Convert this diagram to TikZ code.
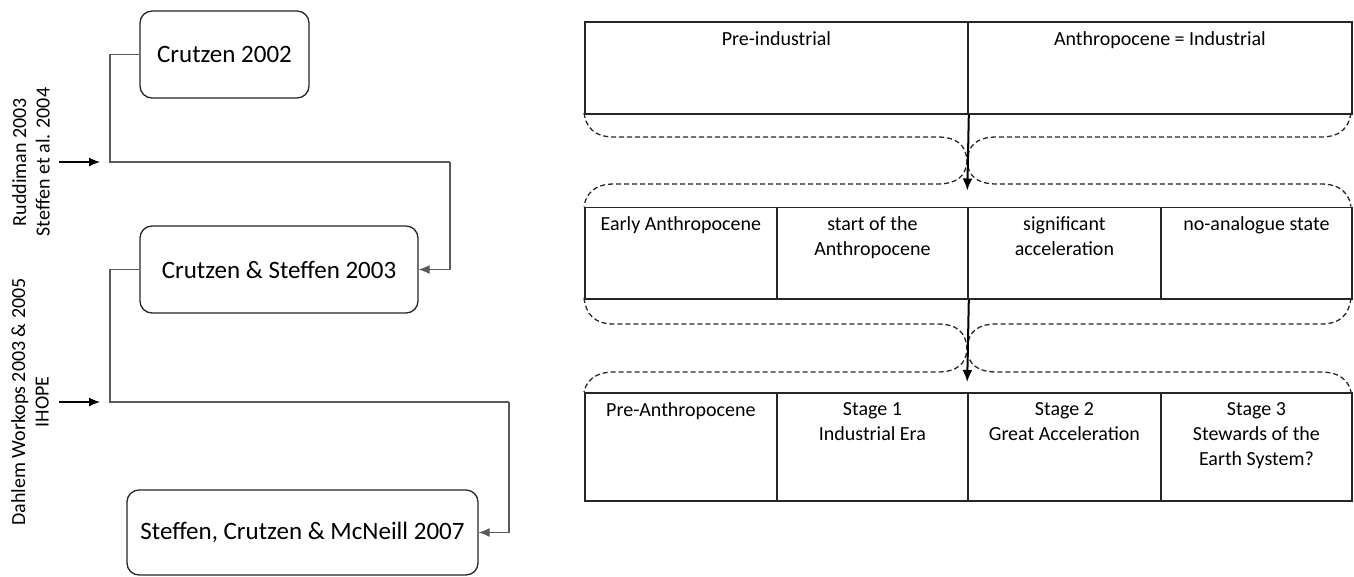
\documentclass[tikz,border=0pt]{standalone}
\usepackage{fontspec}
\setmainfont{Carlito}
\usepackage{xcolor}
\usepackage{tikz}
\usetikzlibrary{arrows.meta,calc}
\definecolor{ink}{RGB}{38, 38, 38}
\definecolor{wire}{RGB}{90, 90, 90}

\begin{document}
\begin{tikzpicture}[x=1pt,y=-1pt,
  paper/.style={draw=ink,line width=1.3pt,rounded corners=12pt,minimum height=87pt,inner sep=0pt,font=\fontsize{25}{30}\selectfont},
  source/.style={rotate=90,align=center,inner sep=0pt,font=\fontsize{20}{23.5}\selectfont},
  cell/.style 2 args={draw=ink,line width=1.8pt,anchor=north west,inner sep=0pt,minimum width=#1,minimum height=#2},
  celltext/.style={anchor=north,yshift=-8pt,inner sep=2pt,align=center,font=\fontsize{20}{25}\selectfont},
  link/.style={wire,line width=1.1pt},
  feed/.style={black,line width=1.1pt,-{Latex[length=11pt,width=9pt]}},
  flow/.style={black,line width=2pt,-{Latex[length=12pt,width=10pt]}},
  brace/.style={ink,line width=1.3pt,dash pattern=on 5pt off 3pt}]
\useasboundingbox (0,0) rectangle (1354,576);
\node[paper,minimum width=169pt] (b1) at (224.5,54.5) {Crutzen 2002};
\node[paper,minimum width=278pt] (b2) at (279,269.5) {Crutzen \& Steffen 2003};
\node[paper,minimum width=351pt,minimum height=85pt] (b3) at (302.5,532.5) {Steffen, Crutzen \& McNeill 2007};
\coordinate (j1) at (110,162);
\coordinate (k1) at (450,162);
\coordinate (j2) at (110,402);
\coordinate (k2) at (509,402);
\draw[link] (b1.west) -| (j1) -- (k1);
\draw[link,-{Latex[length=11pt,width=9pt]}] (k1) |- (b2.east);
\draw[link] (b2.west) -| (j2) -- (k2);
\draw[link,-{Latex[length=11pt,width=9pt]}] (k2) |- (b3.east);
\node[source] (r1) at (31,162) {Ruddiman 2003\\Steffen et al. 2004};
\node[source] (r2) at (30,402) {Dahlem Workops 2003 \& 2005\\IHOPE};
\coordinate (in1) at (59,162);
\coordinate (to1) at (100,162);
\coordinate (in2) at (59,402);
\coordinate (to2) at (100,402);
\draw[feed] (in1) -- (to1);
\draw[feed] (in2) -- (to2);
\node[cell={383pt}{92pt},label={[celltext]north:Pre-industrial}] (pre) at (584,21) {};
\node[cell={384pt}{92pt},label={[celltext]north:Anthropocene = Industrial}] (ind) at (967,21) {};
\node[cell={192pt}{91.5pt},label={[celltext]north:Early Anthropocene}] (e1) at (584,206.5) {};
\node[cell={191pt}{91.5pt},label={[celltext]north:{start of the\\Anthropocene}}] (e2) at (776,206.5) {};
\node[cell={193pt}{91.5pt},label={[celltext]north:{significant\\acceleration}}] (e3) at (967,206.5) {};
\node[cell={191pt}{91.5pt},label={[celltext]north:no-analogue state}] (e4) at (1160,206.5) {};
\node[cell={192pt}{108pt},label={[celltext]north:Pre-Anthropocene}] (s0) at (584,392) {};
\node[cell={191pt}{108pt},label={[celltext]north:{Stage 1\\Industrial Era}}] (s1) at (776,392) {};
\node[cell={193pt}{108pt},label={[celltext]north:{Stage 2\\Great Acceleration}}] (s2) at (967,392) {};
\node[cell={191pt}{108pt},label={[celltext]north:{Stage 3\\Stewards of the\\Earth System?}}] (s3) at (1160,392) {};
\foreach \t/\u/\m/\l/\b in {113/137/161/184/206.5,298/324/349/372/392}{
  \draw[brace] (584,\t) .. controls (586,\u-10) and (594,\u) .. (614,\u) -- (937,\u) .. controls (957,\u) and (966,\u+8) .. (967,\m) .. controls (966,\l-8) and (957,\l) .. (937,\l) -- (614,\l) .. controls (594,\l) and (586,\l+10) .. (584,\b);
  \draw[brace] (1351,\t) .. controls (1349,\u-10) and (1341,\u) .. (1321,\u) -- (997,\u) .. controls (977,\u) and (968,\u+8) .. (967,\m) .. controls (968,\l-8) and (977,\l) .. (997,\l) -- (1321,\l) .. controls (1341,\l) and (1349,\l+10) .. (1351,\b);
}
\draw[flow,shorten >=16pt] (pre.south east) -- (e3.north west);
\draw[flow,shorten >=10pt] (e2.south east) -- (s2.north west);
\end{tikzpicture}
\end{document}
